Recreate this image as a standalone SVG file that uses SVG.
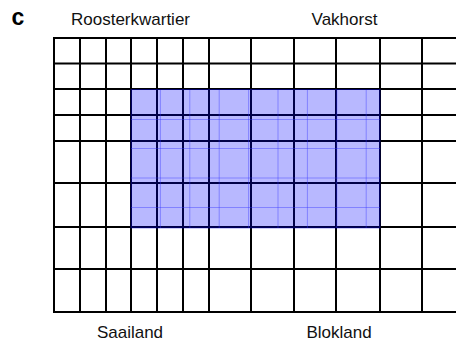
<svg xmlns="http://www.w3.org/2000/svg" width="456" height="341" viewBox="0 0 456 341">
<style>
.g line{stroke:#000;stroke-width:2}
.f line{stroke:#3333ff;stroke-width:1;stroke-opacity:0.4}
.t{font-family:"Liberation Sans",Arial,sans-serif;font-size:17px;fill:#111;text-anchor:middle}
</style>
<rect width="456" height="341" fill="#fff"/>
<text x="18" y="25" style="font-family:'Liberation Sans',Arial,sans-serif;font-size:23px;font-weight:bold;text-anchor:middle" fill="#000">c</text>
<g id="labels">
<text class="t" x="130.5" y="25">Roosterkwartier</text>
<text class="t" x="344.5" y="25">Vakhorst</text>
<text class="t" x="130" y="338">Saailand</text>
<text class="t" x="339" y="338">Blokland</text>
</g>
<g id="grid" class="g">
<line x1="54" y1="37" x2="54" y2="313"/>
<line x1="80" y1="37" x2="80" y2="313"/>
<line x1="106" y1="37" x2="106" y2="313"/>
<line x1="131" y1="37" x2="131" y2="313"/>
<line x1="157" y1="37" x2="157" y2="313"/>
<line x1="183" y1="37" x2="183" y2="313"/>
<line x1="209" y1="37" x2="209" y2="313"/>
<line x1="251" y1="37" x2="251" y2="313"/>
<line x1="294" y1="37" x2="294" y2="313"/>
<line x1="336" y1="37" x2="336" y2="313"/>
<line x1="380" y1="37" x2="380" y2="313"/>
<line x1="422" y1="37" x2="422" y2="313"/>
<line x1="53" y1="38" x2="456" y2="38"/>
<line x1="53" y1="63.5" x2="456" y2="63.5"/>
<line x1="53" y1="89" x2="456" y2="89"/>
<line x1="53" y1="115" x2="456" y2="115"/>
<line x1="53" y1="141" x2="456" y2="141"/>
<line x1="53" y1="183" x2="456" y2="183"/>
<line x1="53" y1="227" x2="456" y2="227"/>
<line x1="53" y1="269" x2="456" y2="269"/>
<line x1="53" y1="312" x2="456" y2="312"/>
</g>
<g id="overlay">
<rect x="131" y="89.5" width="249" height="138.5" fill="#0000ff" fill-opacity="0.28" stroke="#0000cc" stroke-opacity="0.4" stroke-width="1"/>
<g class="f">
<line x1="160.4" y1="90" x2="160.4" y2="228"/>
<line x1="189.8" y1="90" x2="189.8" y2="228"/>
<line x1="219.2" y1="90" x2="219.2" y2="228"/>
<line x1="248.6" y1="90" x2="248.6" y2="228"/>
<line x1="278" y1="90" x2="278" y2="228"/>
<line x1="307.4" y1="90" x2="307.4" y2="228"/>
<line x1="336.8" y1="90" x2="336.8" y2="228"/>
<line x1="366.2" y1="90" x2="366.2" y2="228"/>
<line x1="131" y1="119.5" x2="380" y2="119.5"/>
<line x1="131" y1="148.5" x2="380" y2="148.5"/>
<line x1="131" y1="178" x2="380" y2="178"/>
<line x1="131" y1="207.5" x2="380" y2="207.5"/>
</g>
</g>
</svg>
